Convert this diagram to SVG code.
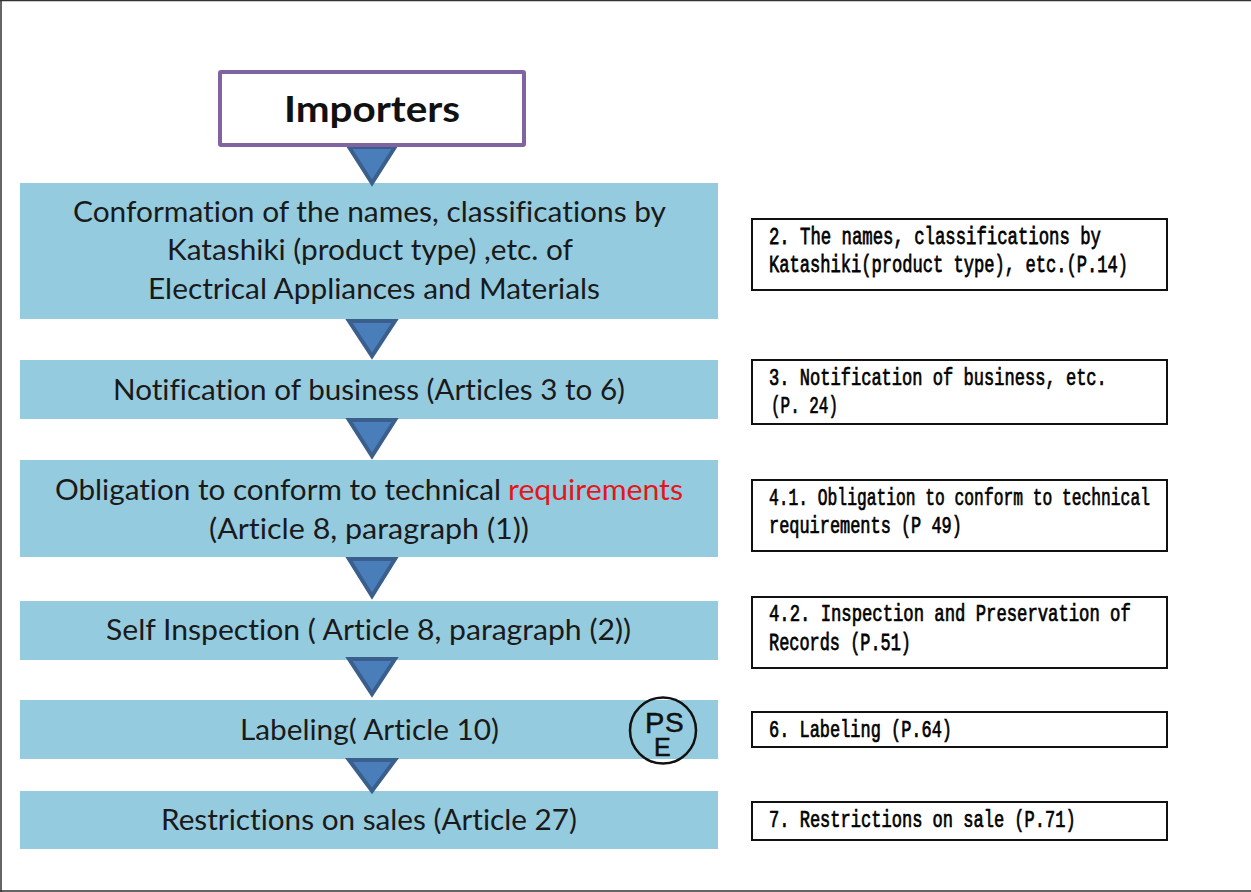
<svg xmlns="http://www.w3.org/2000/svg" width="1251" height="892" viewBox="0 0 1251 892">
<style>
.bar{fill:#95cbde}
.t{font-family:"Lato","Liberation Sans",sans-serif;font-size:29px;fill:#1a1a1a;text-anchor:start;font-variant-ligatures:none}
.b{fill:#fff;stroke:#111;stroke-width:2}
.m{font-family:"Liberation Mono","DejaVu Sans Mono",monospace;font-size:24px;fill:#000;stroke:#000;stroke-width:.75;text-anchor:start}
.a{fill:#4a7ebb;stroke:#3a5f8c;stroke-width:4;stroke-linejoin:miter}
.p{font-family:"Liberation Sans",sans-serif;fill:#111;stroke:#111;stroke-width:.5}
</style>
<rect width="1251" height="892" fill="#fff"/>
<path d="M1 892V0M0 .5H1251M0 891H1251" fill="none" stroke="#333" stroke-width="1.5"/>
<g id="node-conformation">
<rect class="bar" x="20" y="183" width="698" height="136"/>
<text class="t" x="73" y="222" textLength="593" lengthAdjust="spacingAndGlyphs">Conformation of the names, classifications by</text>
<text class="t" x="167" y="260" textLength="406" lengthAdjust="spacingAndGlyphs">Katashiki (product type) ,etc. of</text>
<text class="t" x="148" y="299" textLength="452" lengthAdjust="spacingAndGlyphs">Electrical Appliances and Materials</text>
</g>
<g id="node-notification">
<rect class="bar" x="20" y="360" width="698" height="59"/>
<text class="t" x="113" y="400" textLength="512" lengthAdjust="spacingAndGlyphs">Notification of business (Articles 3 to 6)</text>
</g>
<g id="node-obligation">
<rect class="bar" x="20" y="460" width="698" height="97"/>
<text class="t" x="55" y="500" textLength="446" lengthAdjust="spacingAndGlyphs">Obligation to conform to technical</text>
<text class="t" x="508" y="500" style="fill:#e3171b" textLength="175" lengthAdjust="spacingAndGlyphs">requirements</text>
<text class="t" x="209" y="539" textLength="320" lengthAdjust="spacingAndGlyphs">(Article 8, paragraph (1))</text>
</g>
<g id="node-inspection">
<rect class="bar" x="20" y="601" width="698" height="59"/>
<text class="t" x="106" y="640" textLength="525" lengthAdjust="spacingAndGlyphs">Self Inspection ( Article 8, paragraph (2))</text>
</g>
<g id="node-labeling">
<rect class="bar" x="20" y="700" width="698" height="59"/>
<text class="t" x="240" y="740" textLength="259" lengthAdjust="spacingAndGlyphs">Labeling( Article 10)</text>
<circle cx="663" cy="730.5" r="33" fill="none" stroke="#111" stroke-width="2.5"/>
<text class="p"><tspan x="645" y="733" font-size="29">P</tspan><tspan x="665" y="732" font-size="28">S</tspan><tspan x="654" y="756" font-size="25">E</tspan></text>
</g>
<g id="node-restrictions">
<rect class="bar" x="20" y="791" width="698" height="58"/>
<text class="t" x="161" y="830" textLength="416" lengthAdjust="spacingAndGlyphs">Restrictions on sales (Article 27)</text>
</g>
<g id="connectors">
<polygon class="a" points="349,147 395,147 372,183"/>
<polygon class="a" points="349,321 395,321 372,356"/>
<polygon class="a" points="349,420 395,420 372,456"/>
<polygon class="a" points="349,559 395,559 372,596"/>
<polygon class="a" points="349,659 395,659 372,694"/>
<polygon class="a" points="349,760 395,760 372,791"/>
</g>
<g id="node-importers">
<rect x="220" y="72" width="304" height="73" fill="#fff" stroke="#8064a2" stroke-width="4" rx="1"/>
<text x="284" y="122" style="font-family:Lato,'Liberation Sans',sans-serif;font-size:36px;font-weight:bold;fill:#111" textLength="176" lengthAdjust="spacingAndGlyphs">Importers</text>
</g>
<g id="ref-2">
<rect class="b" x="752" y="219" width="415" height="71"/>
<text class="m" transform="translate(769,244) scale(.7205,1)">2. The names, classifications by</text>
<text class="m" transform="translate(769,272) scale(.7123,1)">Katashiki(product type), etc.(P.14)</text>
</g>
<g id="ref-3">
<rect class="b" x="752" y="360" width="415" height="64"/>
<text class="m" transform="translate(769,385) scale(.7113,1)">3. Notification of business, etc.</text>
<text class="m" transform="translate(771,413) scale(.6647,1)">(P. 24)</text>
</g>
<g id="ref-41">
<rect class="b" x="752" y="480" width="415" height="71"/>
<text class="m" transform="translate(769,505) scale(.6784,1)">4.1. Obligation to conform to technical</text>
<text class="m" transform="translate(769,533) scale(.7054,1)">requirements (P 49)</text>
</g>
<g id="ref-42">
<rect class="b" x="752" y="597" width="415" height="71"/>
<text class="m" transform="translate(769,621) scale(.7183,1)">4.2. Inspection and Preservation of</text>
<text class="m" transform="translate(769,650) scale(.7044,1)">Records (P.51)</text>
</g>
<g id="ref-6">
<rect class="b" x="752" y="712" width="415" height="35"/>
<text class="m" transform="translate(769,737) scale(.706,1)">6. Labeling (P.64)</text>
</g>
<g id="ref-7">
<rect class="b" x="752" y="802" width="415" height="38"/>
<text class="m" transform="translate(769,827) scale(.7106,1)">7. Restrictions on sale (P.71)</text>
</g>
</svg>
